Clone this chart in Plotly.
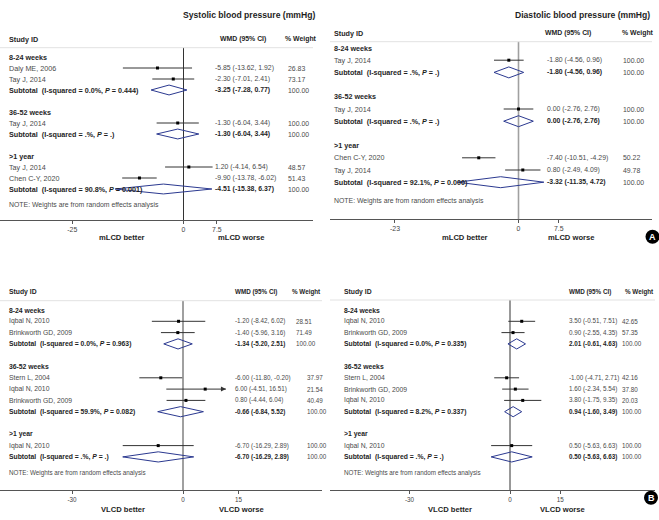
import plotly.graph_objects as go

W, H = 659, 520
FONT = "Liberation Sans, Arial, sans-serif"
NB = "\u00a0"

# ======================= DATA =======================
# Panel A – systolic (mLCD)
A_SBP_LABELS = ["8-24 weeks", "Daly ME, 2006", "Tay J, 2014", "Subtotal", "",
                "36-52 weeks", "Tay J, 2014", "Subtotal", "",
                ">1 year", "Tay J, 2014", "Chen C-Y, 2020", "Subtotal"]
A_SBP_KIND = ["g", "s", "s", "t", "b", "g", "s", "t", "b", "g", "s", "s", "t"]
A_SBP_EST = [None, -5.85, -2.30, -3.25, None, None, -1.30, -1.30, None, None, 1.20, -9.90, -4.51]
A_SBP_LO = [None, -13.62, -7.01, -7.28, None, None, -6.04, -6.04, None, None, -4.14, -13.78, -15.38]
A_SBP_HI = [None, 1.92, 2.41, 0.77, None, None, 3.44, 3.44, None, None, 6.54, -6.02, 6.37]
A_SBP_WT = ["", "26.83", "73.17", "100.00", "", "", "100.00", "100.00", "", "", "48.57", "51.43", "100.00"]
A_SBP_HET = {3: ("0.0", "0.444"), 7: (".", "."), 12: ("90.8", "0.001")}

# Panel A – diastolic (mLCD)
A_DBP_LABELS = ["8-24 weeks", "Tay J, 2014", "Subtotal", "",
                "36-52 weeks", "Tay J, 2014", "Subtotal", "",
                ">1 year", "Chen C-Y, 2020", "Tay J, 2014", "Subtotal"]
A_DBP_KIND = ["g", "s", "t", "b", "g", "s", "t", "b", "g", "s", "s", "t"]
A_DBP_EST = [None, -1.80, -1.80, None, None, 0.00, 0.00, None, None, -7.40, 0.80, -3.32]
A_DBP_LO = [None, -4.56, -4.56, None, None, -2.76, -2.76, None, None, -10.51, -2.49, -11.35]
A_DBP_HI = [None, 0.96, 0.96, None, None, 2.76, 2.76, None, None, -4.29, 4.09, 4.72]
A_DBP_WT = ["", "100.00", "100.00", "", "", "100.00", "100.00", "", "", "50.22", "49.78", "100.00"]
A_DBP_HET = {2: (".", "."), 6: (".", "."), 11: ("92.1", "0.000")}

# Panel B – systolic (VLCD)
B_SBP_LABELS = ["8-24 weeks", "Iqbal N, 2010", "Brinkworth GD, 2009", "Subtotal", "",
                "36-52 weeks", "Stern L, 2004", "Iqbal N, 2010", "Brinkworth GD, 2009", "Subtotal", "",
                ">1 year", "Iqbal N, 2010", "Subtotal"]
B_SBP_KIND = ["g", "s", "s", "t", "b", "g", "s", "s", "s", "t", "b", "g", "s", "t"]
B_SBP_EST = [None, -1.20, -1.40, -1.34, None, None, -6.00, 6.00, 0.80, -0.66, None, None, -6.70, -6.70]
B_SBP_LO = [None, -8.42, -5.96, -5.20, None, None, -11.80, -4.51, -4.44, -6.84, None, None, -16.29, -16.29]
B_SBP_HI = [None, 6.02, 3.16, 2.51, None, None, -0.20, 16.51, 6.04, 5.52, None, None, 2.89, 2.89]
B_SBP_WT = ["", "28.51", "71.49", "100.00", "", "", "37.97", "21.54", "40.49", "100.00", "", "", "100.00", "100.00"]
B_SBP_HET = {3: ("0.0", "0.963"), 9: ("59.9", "0.082"), 13: (".", ".")}

# Panel B – diastolic (VLCD)
B_DBP_LABELS = ["8-24 weeks", "Iqbal N, 2010", "Brinkworth GD, 2009", "Subtotal", "",
                "36-52 weeks", "Stern L, 2004", "Brinkworth GD, 2009", "Iqbal N, 2010", "Subtotal", "",
                ">1 year", "Iqbal N, 2010", "Subtotal"]
B_DBP_KIND = ["g", "s", "s", "t", "b", "g", "s", "s", "s", "t", "b", "g", "s", "t"]
B_DBP_EST = [None, 3.50, 0.90, 2.01, None, None, -1.00, 1.60, 3.80, 0.94, None, None, 0.50, 0.50]
B_DBP_LO = [None, -0.51, -2.55, -0.61, None, None, -4.71, -2.34, -1.75, -1.60, None, None, -5.63, -5.63]
B_DBP_HI = [None, 7.51, 4.35, 4.63, None, None, 2.71, 5.54, 9.35, 3.49, None, None, 6.63, 6.63]
B_DBP_WT = ["", "42.65", "57.35", "100.00", "", "", "42.16", "37.80", "20.03", "100.00", "", "", "100.00", "100.00"]
B_DBP_HET = {3: ("0.0", "0.335"), 9: ("8.2", "0.337"), 13: (".", ".")}

TICKS_A_SBP = [-25, 0, 7.5]
TICKS_A_DBP = [-23, 0, 7.5]
TICKS_B = [-30, 0, 15]

TITLE_SBP = "Systolic blood pressure (mmHg)"
TITLE_DBP = "Diastolic blood pressure (mmHg)"
NOTE = "NOTE: Weights are from random effects analysis"

# ======================= LAYOUT (pixel geometry / styles) =======================
PANELS = [
    dict(labels=A_SBP_LABELS, kind=A_SBP_KIND, est=A_SBP_EST, lo=A_SBP_LO, hi=A_SBP_HI, wt=A_SBP_WT,
         het=A_SBP_HET, ticks=TICKS_A_SBP, grp="mLCD", fs_lab=7.2, fs_num=6.9,
         x0=0, x1=313, zero=183.5, scale=4.45, row0=57, dy=11.0, ytop=25, axis=220,
         hdr=39, sep=47.7, note=205, lab_x=7, wmd_x=213, wt_x=286, hwmd_x=218, hwt_x=283,
         zcol="#333333", zw=1, better_x=122.5, worse_x=241, bw_y=238, clip=None),
    dict(labels=A_DBP_LABELS, kind=A_DBP_KIND, est=A_DBP_EST, lo=A_DBP_LO, hi=A_DBP_HI, wt=A_DBP_WT,
         het=A_DBP_HET, ticks=TICKS_A_DBP, grp="mLCD", fs_lab=7.2, fs_num=6.9,
         x0=330, x1=652, zero=518.5, scale=5.37, row0=48, dy=12.2, ytop=25, axis=219,
         hdr=33, sep=41.7, note=201, lab_x=332, wmd_x=545, wt_x=621, hwmd_x=543, hwt_x=620,
         zcol="#a0a0a0", zw=1.6, better_x=464.7, worse_x=570.8, bw_y=238, clip=None),
    dict(labels=B_SBP_LABELS, kind=B_SBP_KIND, est=B_SBP_EST, lo=B_SBP_LO, hi=B_SBP_HI, wt=B_SBP_WT,
         het=B_SBP_HET, ticks=TICKS_B, grp="VLCD", fs_lab=6.8, fs_num=6.3,
         x0=0, x1=322, zero=183, scale=3.7, row0=310, dy=11.3, ytop=280, axis=490,
         hdr=292, sep=300.7, note=473, lab_x=7, wmd_x=233, wt_x=[294] * 4 + [305] * 10, hwmd_x=233, hwt_x=290,
         zcol="#a0a0a0", zw=2, better_x=123.3, worse_x=241, bw_y=509, clip=11.6),
    dict(labels=B_DBP_LABELS, kind=B_DBP_KIND, est=B_DBP_EST, lo=B_DBP_LO, hi=B_DBP_HI, wt=B_DBP_WT,
         het=B_DBP_HET, ticks=TICKS_B, grp="VLCD", fs_lab=6.8, fs_num=6.3,
         x0=330, x1=655, zero=510, scale=3.35, row0=310, dy=11.3, ytop=280, axis=490,
         hdr=291.7, sep=300, note=472.7, lab_x=342, wmd_x=566.7, wt_x=620, hwmd_x=566.7, hwt_x=623,
         zcol="#333333", zw=1, better_x=450, worse_x=562.5, bw_y=509, clip=None),
]

REG = "#4a4a4a"
BOLD = "#1e1e1e"
CI_COL = "#333333"
DIA_COL = "#2b3990"

fig = go.Figure()
annotations = []
shapes = []


def px(x):
    return x / W


def py(y):
    return 1 - y / H


def fmt(v):
    return f"{v:.2f}"


def txt_ann(text, x, y, yref, size, color, xanchor="left", xref="paper"):
    return dict(text=text, x=x, y=y, xref=xref, yref=yref, xanchor=xanchor, yanchor="middle",
                showarrow=False, font=dict(family=FONT, size=size, color=color))


for i, p in enumerate(PANELS, start=1):
    xa, ya = f"x{i}", f"y{i}"
    row = lambda pyv, p=p: (pyv - p["row0"]) / p["dy"]
    xmin = (p["x0"] - p["zero"]) / p["scale"]
    xmax = (p["x1"] - p["zero"]) / p["scale"]
    suffix = "" if i == 1 else str(i)
    fl, fn = p["fs_lab"], p["fs_num"]
    fig.layout[f"xaxis{suffix}"] = dict(
        domain=[px(p["x0"]), px(p["x1"])], range=[xmin, xmax], anchor=ya,
        showline=True, linecolor="#555555", linewidth=1, ticks="outside", ticklen=3,
        tickcolor="#555555", tickwidth=1, tickvals=p["ticks"], ticktext=[str(t) for t in p["ticks"]],
        tickfont=dict(family=FONT, size=fn, color="#444444"), showgrid=False, zeroline=False,
        fixedrange=True)
    fig.layout[f"yaxis{suffix}"] = dict(
        domain=[py(p["axis"]), py(p["ytop"])], range=[row(p["axis"]), row(p["ytop"])],
        anchor=xa, visible=False, showgrid=False, zeroline=False, fixedrange=True)

    # zero line
    shapes.append(dict(type="line", xref=xa, yref=ya, x0=0, x1=0, y0=row(p["sep"]), y1=row(p["axis"]),
                       line=dict(color=p["zcol"], width=p["zw"]), layer="below"))
    # header separator
    shapes.append(dict(type="line", xref="paper", yref=ya, x0=px(p["x0"]), x1=px(p["x1"]),
                       y0=row(p["sep"]), y1=row(p["sep"]), line=dict(color="#e2e2e2", width=1)))

    # header texts
    annotations.append(txt_ann("<b>Study ID</b>", px(p["lab_x"]), row(p["hdr"]), ya, fl, BOLD))
    annotations.append(txt_ann("<b>WMD (95% CI)</b>", px(p["hwmd_x"]), row(p["hdr"]), ya, fn, BOLD))
    annotations.append(txt_ann("<b>% Weight</b>", px(p["hwt_x"]), row(p["hdr"]), ya, fn, BOLD))

    ci_x, ci_y, pt_x, pt_y = [], [], [], []
    for r, (lab, k) in enumerate(zip(p["labels"], p["kind"])):
        if k == "b":
            continue
        wtx = p["wt_x"][r] if isinstance(p["wt_x"], list) else p["wt_x"]
        if k == "g":
            annotations.append(txt_ann(f"<b>{lab}</b>", px(p["lab_x"]), r, ya, fl, BOLD))
            continue
        e, lo, hi = p["est"][r], p["lo"][r], p["hi"][r]
        wmd = f"{fmt(e)} ({fmt(lo)}, {fmt(hi)})"
        if k == "s":
            annotations.append(txt_ann(lab, px(p["lab_x"]), r, ya, fl, REG))
            annotations.append(txt_ann(wmd, px(p["wmd_x"]), r, ya, fn, REG))
            hi_draw = hi
            if p["clip"] is not None and hi > p["clip"]:
                hi_draw = p["clip"]
                annotations.append(dict(x=hi_draw, y=r, ax=hi_draw - 0.8, ay=r, xref=xa, yref=ya,
                                        axref=xa, ayref=ya, text="", showarrow=True, arrowhead=2,
                                        arrowsize=1, arrowwidth=1, arrowcolor=CI_COL, standoff=0))
            ci_x += [lo, hi_draw, None]
            ci_y += [r, r, None]
            pt_x.append(e)
            pt_y.append(r)
        else:  # subtotal
            i2, pv = p["het"][r]
            lab_full = f"<b>{lab}{NB}{NB}(I-squared = {i2}%, <i>P</i> = {pv})</b>"
            annotations.append(txt_ann(lab_full, px(p["lab_x"]), r, ya, fl, BOLD))
            annotations.append(txt_ann(f"<b>{wmd}</b>", px(p["wmd_x"]), r, ya, fn, BOLD))
            h = 0.45
            fig.add_trace(go.Scatter(x=[lo, e, hi, e, lo], y=[r, r - h, r, r + h, r], xaxis=xa, yaxis=ya,
                                     mode="lines", line=dict(color=DIA_COL, width=1), hoverinfo="skip",
                                     showlegend=False))
        annotations.append(txt_ann(p["wt"][r], px(wtx), r, ya, fn, REG))

    fig.add_trace(go.Scatter(x=ci_x, y=ci_y, xaxis=xa, yaxis=ya, mode="lines",
                             line=dict(color=CI_COL, width=1), hoverinfo="skip", showlegend=False))
    fig.add_trace(go.Scatter(x=pt_x, y=pt_y, xaxis=xa, yaxis=ya, mode="markers",
                             marker=dict(symbol="square", size=3, color="black"),
                             hoverinfo="skip", showlegend=False))

    # note
    annotations.append(txt_ann(NOTE, px(p["lab_x"]), row(p["note"]), ya, fn, REG))
    # better / worse
    for t, xx in ((f"{p['grp']} better", p["better_x"]), (f"{p['grp']} worse", p["worse_x"])):
        annotations.append(txt_ann(f"<b>{t}</b>", px(xx), py(p["bw_y"]), "paper", 7.6, BOLD, "center"))

# titles
for t, xx in ((TITLE_SBP, 249), (TITLE_DBP, 582.5)):
    annotations.append(txt_ann(f"<b>{t}</b>", px(xx), py(15), "paper", 8.6, BOLD, "center"))

# panel badges
for letter, cx, cy in (("A", 652.5, 236.7), ("B", 651, 497.7)):
    r_ = 7
    shapes.append(dict(type="circle", xref="paper", yref="paper", x0=px(cx - r_), x1=px(cx + r_),
                       y0=py(cy + r_), y1=py(cy - r_), fillcolor="black", line=dict(color="black", width=0)))
    annotations.append(txt_ann(f"<b>{letter}</b>", px(cx), py(cy), "paper", 9, "white", "center"))

fig.update_layout(width=W, height=H, margin=dict(l=0, r=0, t=0, b=0), paper_bgcolor="white",
                  plot_bgcolor="rgba(0,0,0,0)", annotations=annotations, shapes=shapes,
                  showlegend=False)
fig.write_html("out.html", config={"displayModeBar": False},
               post_script="document.body.style.margin='0px';document.body.style.padding='0px';")
